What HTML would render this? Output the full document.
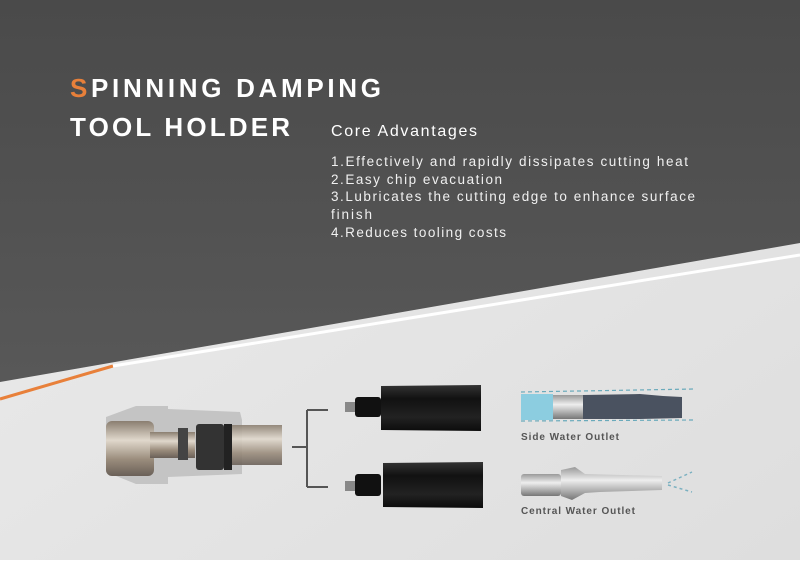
<!DOCTYPE html>
<html><head><style>
body{margin:0;width:800px;height:560px;overflow:hidden;font-family:"Liberation Sans","DejaVu Sans",sans-serif}
</style></head><body>
<svg width="800" height="560" viewBox="0 0 800 560" xmlns="http://www.w3.org/2000/svg">
<defs>
<linearGradient id="bg" x1="0" y1="0" x2="1" y2="1"><stop offset="0" stop-color="#ececec"/><stop offset="1" stop-color="#dedede"/></linearGradient>
<linearGradient id="dk" x1="0" y1="0" x2="0" y2="1"><stop offset="0" stop-color="#4a4a4a"/><stop offset="1" stop-color="#585858"/></linearGradient>
<linearGradient id="blk" x1="0" y1="0" x2="0" y2="1"><stop offset="0" stop-color="#333"/><stop offset=".3" stop-color="#111"/><stop offset=".7" stop-color="#222"/><stop offset="1" stop-color="#0c0c0c"/></linearGradient>
<linearGradient id="met" x1="0" y1="0" x2="0" y2="1"><stop offset="0" stop-color="#8a7e70"/><stop offset=".35" stop-color="#e0d8cc"/><stop offset=".7" stop-color="#9a8c7c"/><stop offset="1" stop-color="#6a6058"/></linearGradient>
<linearGradient id="sil" x1="0" y1="0" x2="0" y2="1"><stop offset="0" stop-color="#999"/><stop offset=".4" stop-color="#eee"/><stop offset="1" stop-color="#777"/></linearGradient>
</defs>
<rect width="800" height="560" fill="url(#bg)"/>
<polygon points="0,0 800,0 800,243 0,382" fill="url(#dk)"/>
<line x1="0" y1="399" x2="113" y2="366" stroke="#e8803a" stroke-width="3"/>
<line x1="113" y1="366" x2="800" y2="255" stroke="#fff" stroke-width="3"/>
<text x="70" y="97" font-size="26" font-weight="bold" fill="#fff" textLength="311" lengthAdjust="spacing"><tspan fill="#e8803a">S</tspan>PINNING DAMPING</text>
<text x="70" y="136" font-size="26" font-weight="bold" fill="#fff" textLength="220" lengthAdjust="spacing">TOOL HOLDER</text>
<text x="331" y="136" font-size="16" fill="#fff" textLength="146" lengthAdjust="spacing">Core Advantages</text>
<g font-size="13.5" fill="#f0f0f0">
<text x="331" y="166" textLength="357" lengthAdjust="spacing">1.Effectively and rapidly dissipates cutting heat</text>
<text x="331" y="184" textLength="171" lengthAdjust="spacing">2.Easy chip evacuation</text>
<text x="331" y="201" textLength="364" lengthAdjust="spacing">3.Lubricates the cutting edge to enhance surface</text>
<text x="331" y="219" textLength="41" lengthAdjust="spacing">finish</text>
<text x="331" y="237" textLength="175" lengthAdjust="spacing">4.Reduces tooling costs</text>
</g>
<path d="M106,417 L136,406 L168,406 L168,409 L240,412 L242,420 L242,474 L168,477 L168,484 L136,484 L106,472 Z" fill="#c4c4c4"/>
<rect x="106" y="421" width="48" height="55" rx="6" fill="url(#met)"/>
<rect x="150" y="432" width="45" height="26" fill="url(#met)"/>
<rect x="178" y="428" width="10" height="32" fill="#444"/>
<rect x="196" y="424" width="28" height="46" rx="3" fill="#333"/>
<rect x="224" y="424" width="8" height="46" fill="#222"/>
<rect x="232" y="425" width="50" height="40" fill="url(#met)" opacity=".9"/>
<path d="M292,447 H307 M307,410 V487 M307,410 H328 M307,487 H328" stroke="#555" stroke-width="2" fill="none"/>
<rect x="345" y="402" width="12" height="10" fill="#888"/>
<rect x="355" y="397" width="26" height="20" rx="3" fill="#111"/>
<path d="M381,386 L481,385 L481,431 L381,430 Z" fill="url(#blk)"/>
<rect x="345" y="481" width="12" height="10" fill="#888"/>
<rect x="355" y="474" width="26" height="22" rx="3" fill="#111"/>
<path d="M383,463 L483,462 L483,508 L383,507 Z" fill="url(#blk)"/>
<rect x="521" y="394" width="32" height="26" fill="#8ccde0"/>
<rect x="553" y="395" width="30" height="24" fill="url(#sil)"/>
<path d="M583,395 L640,394 L663,396 L682,397 L682,418 L640,419 L583,419 Z" fill="#4a5260"/>
<g stroke="#6aaabb" stroke-width="1.2" stroke-dasharray="4,3"><line x1="521" y1="392" x2="695" y2="389"/><line x1="521" y1="421" x2="695" y2="420"/></g>
<text x="521" y="440" font-size="10" font-weight="bold" fill="#555" textLength="98" lengthAdjust="spacing">Side Water Outlet</text>
<rect x="521" y="474" width="40" height="22" rx="3" fill="url(#sil)"/>
<path d="M561,470 L575,467 L585,474 L662,476 L662,490 L600,492 L585,493 L572,500 L561,496 Z" fill="url(#sil)"/>
<g stroke="#7ab0c0" stroke-width="1.5" stroke-dasharray="3,3"><line x1="668" y1="483" x2="692" y2="472"/><line x1="668" y1="485" x2="692" y2="492"/></g>
<text x="521" y="514" font-size="10" font-weight="bold" fill="#555" textLength="114" lengthAdjust="spacing">Central Water Outlet</text>
</svg>
</body></html>
